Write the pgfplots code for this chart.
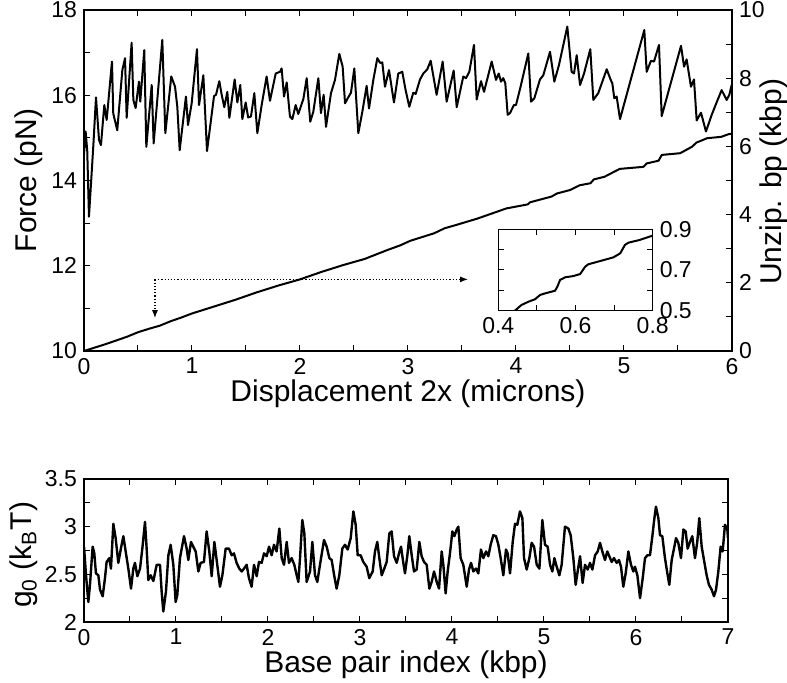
\documentclass[border=0pt]{standalone}
\usepackage{pgfplots}
\pgfplotsset{compat=1.18}
\usepackage{fontspec}
\setmainfont{Liberation Sans}
\usetikzlibrary{arrows.meta}

\pgfplotsset{
  every axis/.append style={
    scale only axis,
    /pgf/number format/assume math mode=true,
    tick label style={font=\fontsize{11.5}{12}\selectfont},
    label style={font=\fontsize{15}{17}\selectfont},
    axis line style={line width=0.6pt},
    tick style={line width=0.5pt,black},
    major tick length=3pt, minor tick length=3pt,
    tick align=inside,
  },
}

% force trace (x in microns, F in pN)
\pgfplotstableread{
x F
0 14.6
0.015 15.15
0.03 14.7
0.046 13.15
0.086 14.8
0.111 15.95
0.139 14.95
0.157 14.83
0.188 15.77
0.21 15.42
0.259 16.79
0.271 15.57
0.308 15.18
0.355 16.59
0.38 16.87
0.395 15.47
0.441 17.23
0.457 15.89
0.478 15.70
0.509 16.32
0.521 15.85
0.558 17.06
0.577 14.79
0.627 16.24
0.645 14.87
0.725 17.30
0.753 15.11
0.808 16.44
0.843 16.20
0.864 15.73
0.886 14.71
0.944 15.97
0.963 15.30
0.997 15.81
1.046 17.08
1.065 15.77
1.105 16.47
1.139 14.69
1.204 15.98
1.222 16.01
1.253 16.33
1.275 16.01
1.299 15.72
1.327 16.08
1.346 15.47
1.395 16.37
1.42 15.83
1.447 16.24
1.466 15.44
1.497 15.83
1.52 15.48
1.546 15.50
1.577 16.05
1.605 15.11
1.645 15.77
1.691 16.44
1.722 15.87
1.775 16.51
1.815 16.55
1.83 16.63
1.852 15.97
1.877 16.30
1.907 15.50
1.929 15.44
1.96 15.77
1.984 15.56
2.031 15.91
2.062 16.40
2.095 15.38
2.123 15.61
2.17 16.40
2.194 15.58
2.219 16.01
2.241 15.26
2.287 16.05
2.324 16.36
2.364 16.97
2.395 16.67
2.417 15.81
2.442 15.93
2.472 16.06
2.503 16.63
2.54 15.11
2.577 15.61
2.617 16.22
2.639 15.69
2.679 16.36
2.716 16.87
2.741 16.76
2.762 16.77
2.787 16.20
2.824 16.59
2.87 15.83
2.91 16.51
2.947 16.55
2.978 16.12
3.012 15.73
3.049 16.06
3.071 16.03
3.111 16.37
3.142 16.51
3.179 16.61
3.21 16.81
3.265 16.01
3.321 16.79
3.358 15.85
3.423 16.58
3.451 15.72
3.512 16.44
3.537 16.40
3.568 16.55
3.611 17.18
3.636 15.90
3.676 16.33
3.704 16.08
3.775 16.79
3.815 16.36
3.84 16.51
3.861 16.32
3.882 16.40
3.901 16.28
3.923 15.54
3.944 15.58
3.981 15.77
4.0 15.77
4.046 16.24
4.114 16.98
4.139 15.85
4.17 15.93
4.222 16.37
4.253 16.47
4.315 17.02
4.355 16.32
4.398 16.71
4.475 17.61
4.515 16.55
4.537 16.51
4.562 16.94
4.593 16.24
4.63 16.51
4.688 17.08
4.716 15.89
4.762 16.05
4.84 16.61
4.877 16.36
4.892 16.28
4.91 15.93
4.932 15.97
4.963 15.44
5.188 17.53
5.21 16.55
5.25 16.81
5.278 16.79
5.324 17.18
5.349 15.51
5.528 17.16
5.556 16.67
5.58 16.84
5.62 16.20
5.648 16.37
5.673 15.41
5.713 15.59
5.759 15.15
5.812 15.54
5.867 15.89
5.904 16.12
5.951 15.89
5.975 16.01
5.997 16.24
}\forcedata

% unzipped base pairs (kbp)
\pgfplotstableread{
x bp
0 0
0.1 0.1
0.2 0.2
0.3 0.31
0.4 0.42
0.5 0.55
0.6 0.65
0.7 0.74
0.8 0.87
0.9 0.98
1.0 1.1
1.2 1.3
1.4 1.5
1.6 1.72
1.8 1.92
2.0 2.1
2.2 2.32
2.4 2.52
2.6 2.7
2.8 2.95
2.93 3.1
3.02 3.23
3.24 3.45
3.34 3.6
3.44 3.69
3.64 3.88
3.91 4.18
4.11 4.3
4.13 4.36
4.33 4.53
4.38 4.62
4.5 4.72
4.59 4.86
4.69 4.92
4.72 5.03
4.82 5.11
4.96 5.34
5.18 5.40
5.21 5.50
5.32 5.58
5.35 5.75
5.52 5.80
5.63 5.99
5.67 6.11
5.77 6.24
5.90 6.28
5.97 6.36
6.0 6.37
}\bpdata

% inset, zoom on the unzipping curve
\pgfplotstableread{
x bp
0.443 0.5
0.46 0.528
0.478 0.544
0.495 0.556
0.508 0.577
0.521 0.585
0.547 0.598
0.553 0.618
0.560 0.651
0.573 0.664
0.594 0.670
0.612 0.680
0.625 0.716
0.633 0.728
0.664 0.744
0.698 0.762
0.716 0.782
0.728 0.823
0.737 0.834
0.767 0.848
0.797 0.867
0.8 0.870
}\insetdata

% g0 along the sequence
\pgfplotstableread{
x g
0 2.79
0.022 2.49
0.047 2.21
0.065 2.39
0.094 2.79
0.112 2.72
0.13 2.51
0.156 2.49
0.174 2.34
0.203 2.27
0.228 2.46
0.246 2.63
0.275 2.67
0.293 2.56
0.319 3.03
0.344 2.88
0.373 2.62
0.399 2.76
0.428 2.90
0.453 2.74
0.482 2.56
0.511 2.35
0.536 2.56
0.554 2.62
0.58 2.48
0.609 2.56
0.634 2.77
0.663 3.05
0.681 2.77
0.699 2.44
0.725 2.49
0.754 2.43
0.79 2.60
0.826 2.60
0.844 2.32
0.862 2.11
0.891 2.32
0.917 2.70
0.942 2.81
0.971 2.60
0.996 2.21
1.014 2.28
1.043 2.67
1.087 2.90
1.116 2.77
1.134 2.65
1.163 2.84
1.188 2.79
1.214 2.74
1.243 2.53
1.268 2.62
1.304 2.63
1.333 2.95
1.362 2.74
1.388 2.48
1.417 2.84
1.442 2.65
1.478 2.37
1.504 2.49
1.54 2.77
1.576 2.77
1.605 2.70
1.63 2.72
1.659 2.62
1.688 2.56
1.714 2.53
1.739 2.56
1.768 2.60
1.793 2.46
1.822 2.37
1.848 2.60
1.877 2.48
1.902 2.63
1.931 2.62
1.957 2.72
1.986 2.69
2.011 2.79
2.04 2.70
2.065 2.81
2.094 2.74
2.123 2.98
2.149 2.67
2.174 2.60
2.203 2.84
2.228 2.62
2.257 2.67
2.286 2.60
2.312 2.49
2.33 2.42
2.348 2.67
2.373 3.07
2.395 2.93
2.42 2.42
2.457 2.53
2.482 2.84
2.511 2.49
2.536 2.42
2.565 2.60
2.609 2.86
2.638 2.79
2.667 2.67
2.692 2.65
2.721 2.48
2.746 2.35
2.775 2.49
2.808 2.77
2.837 2.81
2.866 2.76
2.899 2.88
2.928 3.16
2.953 3.02
2.975 2.70
3.007 2.70
3.036 2.63
3.072 2.58
3.101 2.46
3.138 2.53
3.163 2.74
3.188 2.84
3.21 2.67
3.236 2.49
3.264 2.56
3.29 2.63
3.319 2.93
3.344 2.95
3.37 2.69
3.399 2.62
3.424 2.72
3.446 2.79
3.471 2.62
3.489 2.51
3.515 2.70
3.536 2.90
3.562 2.70
3.587 2.53
3.616 2.55
3.645 2.84
3.67 2.69
3.696 2.63
3.725 2.60
3.754 2.35
3.779 2.42
3.805 2.53
3.834 2.42
3.859 2.35
3.888 2.74
3.906 2.60
3.931 2.30
3.953 2.53
3.978 2.72
4.004 2.95
4.026 2.90
4.051 2.97
4.069 3.00
4.094 2.67
4.123 2.60
4.16 2.37
4.185 2.55
4.207 2.62
4.232 2.53
4.261 2.56
4.286 2.51
4.315 2.76
4.341 2.67
4.37 2.74
4.395 2.69
4.42 2.81
4.449 2.91
4.478 2.90
4.504 2.81
4.529 2.67
4.558 2.49
4.587 2.76
4.605 2.72
4.631 2.51
4.66 2.84
4.685 3.03
4.71 3.02
4.739 3.16
4.765 3.09
4.783 2.67
4.812 2.55
4.841 2.67
4.866 2.83
4.892 2.79
4.921 2.60
4.95 2.56
4.982 3.07
5.011 2.81
5.04 2.79
5.066 2.60
5.091 2.53
5.113 2.67
5.138 2.58
5.167 2.49
5.192 2.60
5.228 3.00
5.265 2.98
5.29 2.91
5.319 2.67
5.344 2.39
5.366 2.53
5.392 2.69
5.42 2.41
5.446 2.60
5.475 2.55
5.5 2.62
5.526 2.55
5.555 2.70
5.584 2.74
5.609 2.83
5.634 2.74
5.663 2.65
5.688 2.74
5.71 2.69
5.736 2.63
5.761 2.67
5.79 2.62
5.815 2.65
5.837 2.58
5.862 2.37
5.888 2.51
5.917 2.74
5.946 2.60
5.971 2.53
5.989 2.58
6.015 2.49
6.044 2.25
6.073 2.46
6.098 2.67
6.124 2.70
6.152 2.70
6.178 2.90
6.2 3.09
6.217 3.21
6.243 3.09
6.261 2.91
6.286 2.90
6.315 2.67
6.341 2.51
6.362 2.39
6.388 2.65
6.413 2.77
6.435 2.88
6.46 2.83
6.489 2.67
6.515 2.97
6.54 2.95
6.561 2.77
6.587 2.84
6.612 2.90
6.641 2.67
6.666 2.84
6.688 3.09
6.714 2.79
6.739 2.65
6.768 2.49
6.793 2.39
6.822 2.34
6.848 2.27
6.87 2.34
6.895 2.53
6.92 2.79
6.942 2.74
6.967 3.02
6.993 2.97
7.0 2.88
}\gdata

\begin{document}
\begin{tikzpicture}
\path[use as bounding box] (0,0) rectangle (393.5pt,341.5pt);

% top panel, force on the left axis
\begin{axis}[
  at={(42pt,166pt)}, anchor=south west,
  width=324pt, height=170.5pt,
  xmin=0, xmax=6, ymin=10, ymax=18,
  xtick={0,...,6}, minor xtick={0.5,1.5,...,5.5},
  ytick={10,12,...,18}, minor ytick={11,13,15,17},
  ytick pos=left,
  xlabel={Displacement 2x (microns)},
  ylabel={Force (pN)},
  xlabel style={at={(axis description cs:0.5,-0.124)},anchor=center},
  ylabel style={at={(axis description cs:-0.085,0.5)},anchor=center},
]
\addplot[black,line width=1pt,line join=round] table[x=x,y=F] {\forcedata};
\draw[densely dotted,line width=0.6pt,-{Latex[length=4pt,width=3pt]}] (axis cs:0.657,11.68) -- (axis cs:3.556,11.68);
\draw[densely dotted,line width=0.6pt,-{Latex[length=4pt,width=3pt]}] (axis cs:0.657,11.68) -- (axis cs:0.657,10.77);
\end{axis}

% top panel, unzipped base pairs on the right axis
\begin{axis}[
  at={(42pt,166pt)}, anchor=south west,
  width=324pt, height=170.5pt,
  xmin=0, xmax=6, ymin=0, ymax=10,
  hide x axis,
  ytick={0,2,...,10}, minor ytick={1,3,...,9},
  ytick pos=right, yticklabel pos=right,
  ylabel={Unzip. bp (kbp)},
  ylabel style={at={(axis description cs:1.065,0.496)},anchor=center},
]
\addplot[black,line width=1pt,line join=round] table[x=x,y=bp] {\bpdata};
\end{axis}

% inset
\begin{axis}[
  at={(249.15pt,186.15pt)}, anchor=south west,
  width=77.2pt, height=40.7pt,
  xmin=0.4, xmax=0.8, ymin=0.5, ymax=0.9,
  xtick={0.4,0.6,0.8}, minor xtick={0.5,0.7},
  ytick={0.5,0.7,0.9}, minor ytick={0.6,0.8},
  yticklabel pos=right,
  xticklabel style={/pgf/number format/fixed,/pgf/number format/precision=1,/pgf/number format/fixed zerofill},
  yticklabel style={/pgf/number format/fixed,/pgf/number format/precision=1,/pgf/number format/fixed zerofill},
  axis background/.style={fill=white},
]
\addplot[black,line width=1pt,line join=round] table[x=x,y=bp] {\insetdata};
\end{axis}

% bottom panel
\begin{axis}[
  at={(42pt,30.5pt)}, anchor=south west,
  width=322pt, height=71.5pt,
  xmin=0, xmax=7, ymin=2, ymax=3.5,
  xtick={0,...,7}, minor xtick={0.5,1.5,...,6.5},
  ytick={2,2.5,3,3.5}, minor ytick={2.25,2.75,3.25},
  yticklabel style={/pgf/number format/fixed},
  xlabel={Base pair index (kbp)},
  ylabel={g\textsubscript{0} (k\textsubscript{B}T)},
  xlabel style={at={(axis description cs:0.5,-0.3)},anchor=center},
  ylabel style={at={(axis description cs:-0.093,0.47)},anchor=center},
]
\addplot[black,line width=1.2pt,line join=round] table[x=x,y=g] {\gdata};
\end{axis}
\end{tikzpicture}
\end{document}
